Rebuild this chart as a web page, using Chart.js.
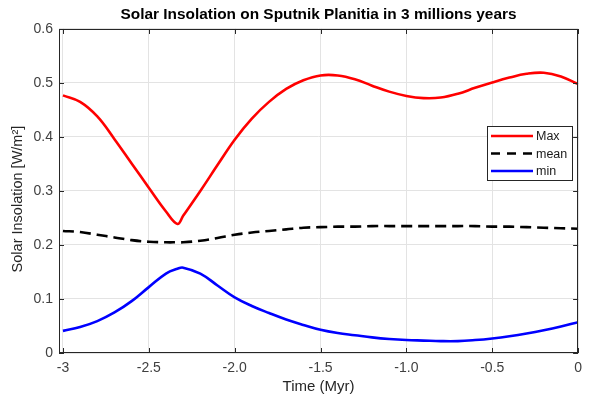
<!DOCTYPE html>
<html>
<head>
<meta charset="utf-8">
<script src="https://cdn.jsdelivr.net/npm/chart.js@4.4.1/dist/chart.umd.min.js"></script>
<style>
  html, body { margin: 0; padding: 0; background: #fff; }
</style>
</head>
<body>
<canvas id="insolationChart" width="589" height="398"></canvas>
<script>
// time axis (Myr) and the three insolation series (W/m^2)
const timeMyr = [-3.0, -2.9, -2.8, -2.7, -2.6, -2.5, -2.4, -2.333, -2.3, -2.2, -2.1, -2.0,
  -1.9, -1.8, -1.7, -1.6, -1.5, -1.4, -1.3, -1.2, -1.1, -1.0,
  -0.9, -0.8, -0.7, -0.6, -0.5, -0.4, -0.3, -0.2, -0.1, 0.0];
const maxIns = [0.477, 0.465, 0.438, 0.396, 0.351, 0.306, 0.262, 0.239, 0.254, 0.300, 0.348, 0.395,
  0.434, 0.465, 0.489, 0.505, 0.514, 0.514, 0.507, 0.495, 0.484, 0.476,
  0.472, 0.473, 0.480, 0.491, 0.501, 0.510, 0.517, 0.519, 0.512, 0.498];
const meanIns = [0.226, 0.224, 0.219, 0.214, 0.209, 0.206, 0.205, 0.205, 0.205, 0.208, 0.213, 0.219,
  0.223, 0.226, 0.229, 0.232, 0.233, 0.234, 0.234, 0.235, 0.235, 0.235,
  0.235, 0.235, 0.235, 0.235, 0.234, 0.234, 0.233, 0.232, 0.231, 0.230];
const minIns = [0.041, 0.048, 0.059, 0.075, 0.096, 0.122, 0.147, 0.156, 0.158, 0.147, 0.125, 0.103,
  0.087, 0.074, 0.062, 0.052, 0.043, 0.037, 0.033, 0.029, 0.026, 0.024,
  0.023, 0.022, 0.022, 0.024, 0.027, 0.031, 0.036, 0.042, 0.049, 0.057];

const xTicks = [-3, -2.5, -2, -1.5, -1, -0.5, 0];
const xTickLabels = ['-3', '-2.5', '-2.0', '-1.5', '-1.0', '-0.5', '0'];
const yTicks = [0, 0.1, 0.2, 0.3, 0.4, 0.5, 0.6];
const yTickLabels = ['0', '0.1', '0.2', '0.3', '0.4', '0.5', '0.6'];

const FONT = "'Liberation Sans', Arial, Helvetica, sans-serif";
const AXIS_COLOR = '#262626';

function toPoints(ys) {
  return timeMyr.map((t, i) => ({ x: t, y: ys[i] }));
}

// MATLAB-like box with inward ticks, plus the legend box
const boxPlugin = {
  id: 'matlabBox',
  afterDatasetsDraw(chart) {
    const { ctx, chartArea: a, scales: { x, y } } = chart;
    const tl = 5;
    ctx.save();
    ctx.strokeStyle = AXIS_COLOR;
    ctx.lineWidth = 1;
    ctx.beginPath();
    xTicks.forEach(v => {
      const px = Math.round(x.getPixelForValue(v)) + 0.5;
      ctx.moveTo(px, a.bottom); ctx.lineTo(px, a.bottom - tl);
      ctx.moveTo(px, a.top); ctx.lineTo(px, a.top + tl);
    });
    yTicks.forEach(v => {
      const py = Math.round(y.getPixelForValue(v)) + 0.5;
      ctx.moveTo(a.left, py); ctx.lineTo(a.left + tl, py);
      ctx.moveTo(a.right, py); ctx.lineTo(a.right - tl, py);
    });
    ctx.stroke();
    ctx.strokeRect(Math.round(a.left) + 0.5, Math.round(a.top) + 0.5,
      Math.round(a.right - a.left) - 1, Math.round(a.bottom - a.top) - 1);

    // legend
    const lx = 487, ly = 126, lw = 85, lh = 54;
    ctx.fillStyle = '#fff';
    ctx.fillRect(lx, ly, lw, lh);
    ctx.strokeRect(lx + 0.5, ly + 0.5, lw, lh);
    ctx.font = '12.5px ' + FONT;
    ctx.textBaseline = 'middle';
    chart.data.datasets.forEach((ds, i) => {
      const rowY = ly + 10 + i * 17.5;
      ctx.strokeStyle = ds.borderColor;
      ctx.lineWidth = ds.borderWidth;
      ctx.setLineDash(ds.borderDash ? [9, 7] : []);
      ctx.beginPath();
      ctx.moveTo(lx + 4, rowY);
      ctx.lineTo(lx + 46, rowY);
      ctx.stroke();
      ctx.setLineDash([]);
      ctx.fillStyle = '#1a1a1a';
      ctx.fillText(ds.label, lx + 49, rowY + 1);
    });
    ctx.restore();
  }
};

const lineStyle = { pointRadius: 0, borderWidth: 2.6, tension: 0.4, fill: false };

new Chart(document.getElementById('insolationChart'), {
  type: 'line',
  data: {
    datasets: [
      { label: 'Max', data: toPoints(maxIns), borderColor: '#ff0000', ...lineStyle },
      { label: 'mean', data: toPoints(meanIns), borderColor: '#000000', borderDash: [11, 6], ...lineStyle },
      { label: 'min', data: toPoints(minIns), borderColor: '#0000ff', ...lineStyle }
    ]
  },
  options: {
    responsive: false,
    animation: false,
    devicePixelRatio: 1,
    layout: { padding: { left: 0, right: 4, top: 0, bottom: 0 } },
    plugins: {
      legend: { display: false },
      tooltip: { enabled: false },
      title: {
        display: true,
        fullSize: false,
        text: 'Solar Insolation on Sputnik Planitia in 3 millions years',
        color: '#000',
        font: { family: FONT, size: 15.4, weight: 'bold' },
        padding: { top: 6, bottom: 4.5 }
      }
    },
    scales: {
      x: {
        type: 'linear',
        min: -3.023,
        max: 0,
        afterBuildTicks: s => { s.ticks = xTicks.map(v => ({ value: v })); },
        afterFit: s => { s.height = 45; },
        grid: { color: '#e3e3e3', drawTicks: false },
        border: { display: false },
        ticks: {
          padding: 7,
          color: '#404040',
          font: { family: FONT, size: 14 },
          maxRotation: 0,
          callback: v => xTickLabels[xTicks.indexOf(v)]
        },
        title: {
          display: true,
          text: 'Time (Myr)',
          color: '#262626',
          font: { family: FONT, size: 15 },
          padding: { top: 0, bottom: 2 }
        }
      },
      y: {
        min: 0,
        max: 0.6,
        afterBuildTicks: s => { s.ticks = yTicks.map(v => ({ value: v })); },
        afterFit: s => { s.width = 59; },
        grid: { color: '#e3e3e3', drawTicks: false },
        border: { display: false },
        ticks: {
          padding: 6,
          color: '#404040',
          font: { family: FONT, size: 14 },
          callback: (v, i) => yTickLabels[i]
        },
        title: {
          display: true,
          text: 'Solar Insolation [W/m²]\u00a0\u00a0\u00a0\u00a0',
          color: '#262626',
          font: { family: FONT, size: 14.5 },
          padding: { top: 9, bottom: 0 }
        }
      }
    }
  },
  plugins: [boxPlugin]
});
</script>
</body>
</html>
